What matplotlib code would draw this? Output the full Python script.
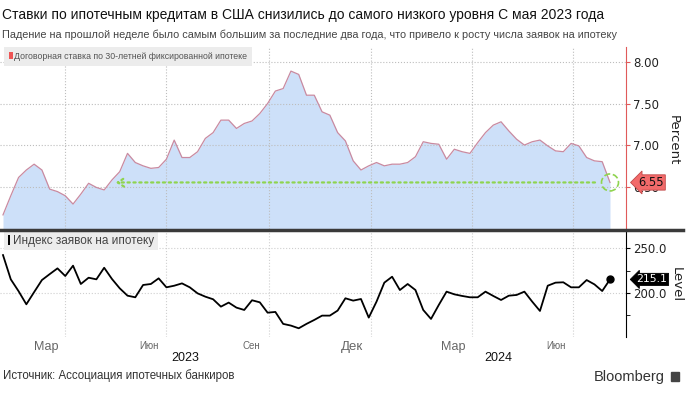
import matplotlib
matplotlib.use('Agg')
import matplotlib.pyplot as plt
import matplotlib.dates as mdates
import matplotlib.transforms as mtrans
from matplotlib.patches import Patch, Ellipse, Rectangle
from matplotlib.lines import Line2D
from matplotlib import font_manager
import pandas as pd

# weekly data, MBA
rate = [6.16, 6.39, 6.61, 6.70, 6.77, 6.70, 6.47, 6.44, 6.39, 6.29,
        6.41, 6.54, 6.49, 6.46, 6.58, 6.68, 6.90, 6.79, 6.75, 6.72,
        6.73, 6.83, 7.06, 6.85, 6.85, 6.92, 7.08, 7.15, 7.30, 7.30,
        7.20, 7.26, 7.29, 7.38, 7.50, 7.65, 7.68, 7.89, 7.85, 7.60,
        7.60, 7.40, 7.36, 7.15, 7.05, 6.81, 6.70, 6.75, 6.79, 6.75,
        6.77, 6.77, 6.79, 6.86, 7.04, 7.02, 7.01, 6.83, 6.95, 6.92,
        6.90, 7.03, 7.15, 7.24, 7.28, 7.17, 7.07, 7.00, 7.04, 7.06,
        6.99, 6.93, 6.92, 7.02, 6.99, 6.85, 6.81, 6.80, 6.55]
apps = [242.2, 215.2, 202, 187.4, 201, 214.4, 221, 227.4, 218.9, 230.4,
        210, 217, 215.2, 228.1, 215.6, 205.2, 197, 195.2, 208.9, 210,
        216.3, 206.3, 208.1, 210.7, 206.3, 199.6, 195.9, 193, 184.8, 189.3,
        183.7, 181.1, 191.9, 189.6, 178.1, 178.9, 165.6, 163.7, 160.7, 165.6,
        170, 174.8, 174.8, 180.4, 194.1, 191.5, 193.3, 172.6, 190.4, 211.5,
        218.1, 203.3, 210, 203.3, 181.1, 171.1, 186.7, 201.5, 198.5, 196.7,
        195.2, 195.2, 201.5, 196.7, 192.2, 197, 197.8, 201.5, 190.4, 180,
        208.1, 211.5, 211.9, 206.3, 206.3, 214.4, 209.6, 202.2, 215.1]
dates = pd.date_range('2023-02-04', periods=len(rate), freq='7D')

grid_dates = pd.to_datetime(['2023-04-01', '2023-07-01', '2023-10-01',
                             '2024-01-01', '2024-04-01', '2024-07-01'])
month_dates = pd.to_datetime(['2023-03-15', '2023-06-15', '2023-09-15',
                              '2023-12-15', '2024-03-15', '2024-06-15'])
month_labels = ['Мар', 'Июн', 'Сен', 'Дек', 'Мар', 'Июн']
month_sizes = [9, 7, 7, 9.5, 9, 7]

title = 'Ставки по ипотечным кредитам в США снизились до самого низкого уровня С мая 2023 года'
subtitle = ('Падение на прошлой неделе было самым большим за последние два года, '
            'что привело к росту числа заявок на ипотеку')
rate_label = 'Договорная ставка по 30-летней фиксированной ипотеке'
apps_label = 'Индекс заявок на ипотеку'

names = {f.name for f in font_manager.fontManager.ttflist}
NARROW = 'Liberation Sans Narrow' if 'Liberation Sans Narrow' in names else 'Liberation Sans'
ARIAL = 'Liberation Sans'

W, H = 693, 396
fig = plt.figure(figsize=(W / 100, H / 100), dpi=100)


def px_axes(l, t, r, b):
    return fig.add_axes([l / W, 1 - b / H, (r - l) / W, (b - t) / H])


ax1 = px_axes(0, 47, 626, 229)
ax2 = px_axes(0, 231, 626, 337)

x0 = dates[0] - pd.Timedelta(days=2.7)
x1 = dates[-1] + pd.Timedelta(days=14.4)
px_day = 626 / (x1 - x0).days

# top panel
ax1.fill_between(dates, rate, 5.0, color='#cde0f9', lw=0)
ax1.plot(dates, rate, color='#c98aa0', lw=0.9)
ax1.set_xlim(x0, x1)
ax1.set_ylim(5.99, 8.18)
ax1.set_xticks(grid_dates)
ax1.tick_params(axis='x', length=0, labelbottom=False)
ax1.yaxis.tick_right()
ax1.set_yticks([6.5, 7.0, 7.5, 8.0], ['6.50', '7.00', '7.50', '8.00'])
ax1.tick_params(axis='y', direction='out', length=3, color='#e05a5a',
                labelsize=8.5, pad=2, labelcolor='#222')
ax1.grid(True, color='#bdbdbd', ls=':', lw=0.8)
for s in ['top', 'left', 'bottom']:
    ax1.spines[s].set_visible(False)
ax1.spines['right'].set_color('#e05a5a')

# green marker for the latest rate
g = '#8fd44f'
ax1.annotate('', xy=(pd.Timestamp('2023-05-14'), 6.55),
             xytext=(pd.Timestamp('2024-07-23'), 6.55),
             arrowprops=dict(arrowstyle='->,head_length=0.45,head_width=0.3',
                             color=g, lw=1.6, linestyle=':'))
py = 182 / (8.18 - 5.99)
ax1.add_patch(Ellipse((mdates.date2num(dates[-1]), 6.55), 17 / px_day, 17 / py,
                      fill=False, ec=g, ls='--', lw=1.2, zorder=5))

tr1 = mtrans.blended_transform_factory(ax1.transAxes, ax1.transData)
ax1.text(1.02, 6.55, '6.55', transform=tr1, va='center', ha='left', fontsize=8.3,
         color='#111', zorder=10, clip_on=False,
         bbox=dict(boxstyle='larrow,pad=0.1', fc='#f26a6a', ec='#c04848', lw=0.6))

leg = ax1.legend(handles=[Patch(facecolor='#ee5555')], labels=[rate_label],
                 loc='upper left', bbox_to_anchor=(4 / 626, 1), borderaxespad=0,
                 fancybox=False, facecolor='#ececec', edgecolor='none', framealpha=1,
                 handlelength=0.5, handleheight=0.9, handletextpad=0.15,
                 borderpad=0.55, prop={'family': NARROW, 'size': 6.3})
for t in leg.get_texts():
    t.set_color('#555')

# bottom panel
ax2.plot(dates, apps, color='black', lw=1.3)
ax2.plot(dates[-1], apps[-1], 'o', color='black', ms=5)
ax2.set_xlim(x0, x1)
ax2.set_ylim(151, 269)
ax2.set_xticks(grid_dates)
ax2.tick_params(axis='x', which='major', length=0, labelbottom=False)
ax2.set_xticks(month_dates, month_labels, minor=True)
ax2.tick_params(axis='x', which='minor', length=0, pad=3, labelcolor='#666')
for lab, fs in zip(ax2.get_xticklabels(minor=True), month_sizes):
    lab.set_fontsize(fs)
    lab.set_family(ARIAL)
ax2.yaxis.tick_right()
ax2.set_yticks([200, 250], ['200.0', '250.0'])
ax2.set_yticks([175, 225], minor=True)
ax2.tick_params(axis='y', which='both', direction='out', length=3, color='black',
                labelsize=8.5, pad=2, labelcolor='#222')
ax2.grid(True, which='major', color='#cfcfcf', ls=':', lw=0.8)
for s in ['top', 'left', 'bottom']:
    ax2.spines[s].set_visible(False)

tr2 = mtrans.blended_transform_factory(ax2.transAxes, ax2.transData)
ax2.text(1.017, apps[-1], '215.1', transform=tr2, va='center', ha='left', fontsize=7.8,
         color='white', zorder=10, clip_on=False,
         bbox=dict(boxstyle='larrow,pad=0.1', fc='black', ec='black', lw=0.6))

leg2 = ax2.legend(handles=[Patch(facecolor='black')], labels=[apps_label],
                  loc='upper left', bbox_to_anchor=(4 / 626, 1), borderaxespad=0,
                  fancybox=False, facecolor='#ececec', edgecolor='none', framealpha=1,
                  handlelength=0.25, handleheight=1.0, handletextpad=0.2,
                  borderpad=0.3, prop={'family': ARIAL, 'size': 8.5})
for t in leg2.get_texts():
    t.set_color('#444')

# year labels under the months
trx = mtrans.blended_transform_factory(ax2.transData, ax2.transAxes)
for yr, a, b in [('2023', x0, pd.Timestamp('2024-01-01')),
                 ('2024', pd.Timestamp('2024-01-01'), x1)]:
    ax2.text(a + (b - a) / 2, -0.2, yr, transform=trx, ha='center', va='center',
             fontsize=9, family=ARIAL, color='#111')

# separator between panels
fig.add_artist(Line2D([0, 683 / W], [1 - 230 / H] * 2, color='#3a3a3a', lw=2.5))

fig.text(673 / W, 1 - 140 / H, 'Percent', rotation=270, ha='center', va='center',
         fontsize=9.5, color='#222')
fig.text(676 / W, 1 - 285 / H, 'Level', rotation=270, ha='center', va='center',
         fontsize=9.5, color='#222')

fig.text(2 / W, 1 - 15 / H, title, ha='left', va='center', fontsize=10,
         family=NARROW, color='#111')
fig.text(2 / W, 1 - 35 / H, subtitle, ha='left', va='center', fontsize=7.8,
         family=ARIAL, color='#444')
fig.text(3 / W, 1 - 376 / H, 'Источник: Ассоциация ипотечных банкиров', ha='left',
         va='center', fontsize=8.3, family=NARROW, color='#333')
fig.text(665 / W, 1 - 377 / H, 'Bloomberg', ha='right', va='center', fontsize=10.5,
         family=ARIAL, color='#333')
fig.add_artist(Rectangle((671 / W, 1 - 381 / H), 8 / W, 9 / H, color='#444',
                         transform=fig.transFigure))

fig.savefig('out.png', dpi=100, facecolor='white')
